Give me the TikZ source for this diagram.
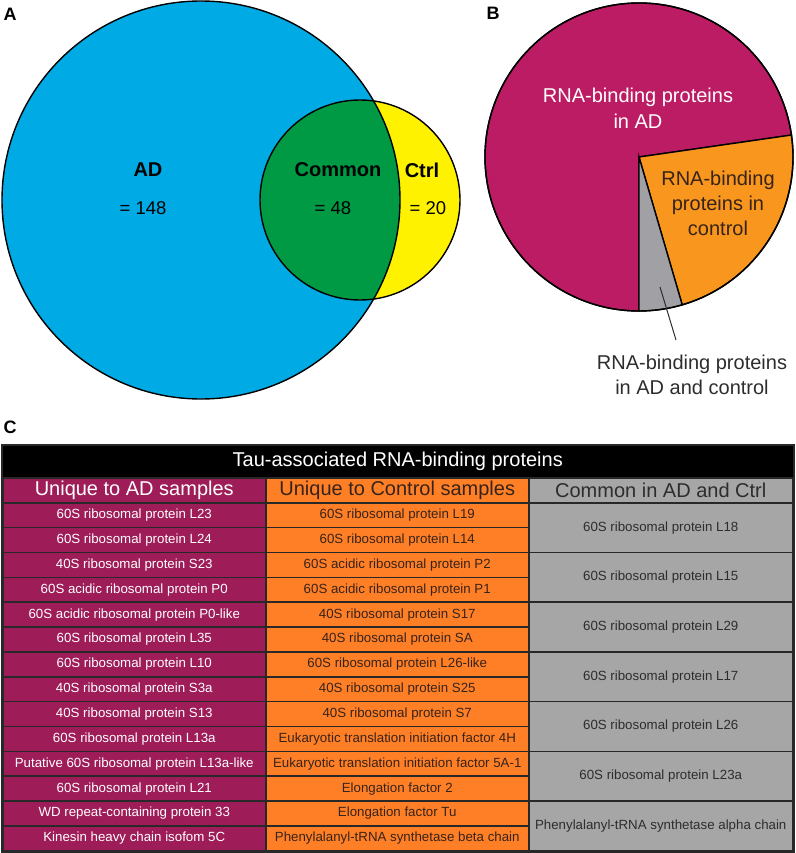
\documentclass[tikz,border=0pt]{standalone}
\usepackage{fontspec}
\setmainfont{Liberation Sans}
\definecolor{vblue}{RGB}{0,170,228}
\definecolor{vgreen}{RGB}{0,153,68}
\definecolor{vyellow}{RGB}{255,242,0}
\definecolor{pmag}{RGB}{188,28,100}
\definecolor{porange}{RGB}{248,150,30}
\definecolor{pgray}{RGB}{160,160,165}
\definecolor{tmag}{RGB}{158,28,88}
\definecolor{torange}{RGB}{255,127,39}
\definecolor{tgray}{RGB}{166,166,166}
\definecolor{tline}{RGB}{40,40,40}
\definecolor{ctext}{RGB}{55,35,25}
\definecolor{gtext}{RGB}{45,45,45}
\newcommand\cellfnt{\fontsize{13.3}{15}\selectfont}
\newcommand\headfnt{\fontsize{20}{22}\selectfont}
\begin{document}
\begin{tikzpicture}[x=1pt,y=-1pt,
  panel/.style={font=\fontsize{18}{20}\selectfont\bfseries},
  vlab/.style={font=\fontsize{20}{22}\selectfont\bfseries, text={RGB,255:red,20;green,20;blue,20}},
  vnum/.style={font=\fontsize{18.5}{20}\selectfont, text={RGB,255:red,20;green,20;blue,20}},
  ptext/.style={font=\fontsize{20}{26}\selectfont, align=center},
  tcell/.style={draw=tline, line width=1.5pt, inner sep=0pt, anchor=north west, font=\cellfnt, minimum height=24.857pt},
  adcell/.style={tcell, fill=tmag, text=white, minimum width=263pt},
  ctcell/.style={tcell, fill=torange, text=ctext, minimum width=263pt},
  cmcell/.style={tcell, fill=tgray, text=gtext, minimum width=264pt, minimum height=49.714pt},
  hdcell/.style={tcell, font=\headfnt, minimum height=25pt}
]
\useasboundingbox (0,0) rectangle (795,853);

% ---------- Panel A: Venn ----------
\node[panel] (pA) at (10,14) {A};
\fill[vblue] (201,200) circle[radius=199pt];
\fill[vyellow] (360,200) circle[radius=100pt];
\begin{scope}
  \clip (201,200) circle[radius=199pt];
  \fill[vgreen] (360,200) circle[radius=100pt];
\end{scope}
\draw[line width=1.4pt] (201,200) circle[radius=199pt];
\draw[line width=1.4pt] (360,200) circle[radius=100pt];
\node[vlab] (tAD) at (148,170) {AD};
\node[vnum] (nAD) at (143,208) {= 148};
\node[vlab] (tCm) at (338,170) {Common};
\node[vnum] (nCm) at (333,208) {= 48};
\node[vlab] (tCt) at (422,170) {Ctrl};
\node[vnum] (nCt) at (428,208) {= 20};

% ---------- Panel B: Pie ----------
\node[panel] (pB) at (493,13) {B};
\coordinate (pc) at (639,157);
\filldraw[fill=pmag, draw=black, line width=1.4pt] (pc) -- ++(8.2:154pt) arc[start angle=8.2, end angle=270, radius=154pt] -- cycle;
\filldraw[fill=porange, draw=black, line width=1.4pt] (pc) -- ++(8.2:154pt) arc[start angle=8.2, end angle=-73.7, radius=154pt] -- cycle;
\filldraw[fill=pgray, draw=black, line width=1.4pt] (pc) -- ++(-73.7:154pt) arc[start angle=-73.7, end angle=-90, radius=154pt] -- cycle;
\draw[line width=1.4pt] (pc) circle[radius=154pt];
\node[ptext, text=white] (pAD) at (638,108) {RNA-binding proteins\\in AD};
\node[ptext, text=ctext, font=\fontsize{20}{25}\selectfont] (pCt) at (718,203) {RNA-binding\\proteins in\\control};
\node[ptext, text=gtext, font=\fontsize{20}{25}\selectfont] (pBo) at (692,375) {RNA-binding proteins\\in AD and control};
\coordinate (ls) at (660,287);
\coordinate (le) at (676,340);
\draw[line width=1pt, gtext] (ls) -- (le);

% ---------- Panel C: Table ----------
\node[panel] (pC) at (10,427) {C};
\node[tcell, fill=black, text=white, font=\headfnt, minimum width=790pt, minimum height=32pt, draw=black] (th) at (2,445) {Tau-associated RNA-binding proteins};
\node[hdcell, adcell, font=\headfnt, minimum height=25pt] (h1) at (2,477) {Unique to AD samples};
\node[hdcell, ctcell, font=\headfnt, minimum height=25pt] (h2) at (265,477) {Unique to Control samples};
\node[hdcell, cmcell, font=\headfnt, minimum height=25pt] (h3) at (528,477) {Common in AD and Ctrl};

\foreach \t [count=\i from 0] in {60S ribosomal protein L23, 60S ribosomal protein L24, 40S ribosomal protein S23, 60S acidic ribosomal protein P0, 60S acidic ribosomal protein P0-like, 60S ribosomal protein L35, 60S ribosomal protein L10, 40S ribosomal protein S3a, 40S ribosomal protein S13, 60S ribosomal protein L13a, Putative 60S ribosomal protein L13a-like, 60S ribosomal protein L21, WD repeat-containing protein 33, Kinesin heavy chain isofom 5C}
  \node[adcell] (a\i) at (2,502+\i*24.857) {\t};

\foreach \t [count=\i from 0] in {60S ribosomal protein L19, 60S ribosomal protein L14, 60S acidic ribosomal protein P2, 60S acidic ribosomal protein P1, 40S ribosomal protein S17, 40S ribosomal protein SA, 60S ribosomal protein L26-like, 40S ribosomal protein S25, 40S ribosomal protein S7, Eukaryotic translation initiation factor 4H, Eukaryotic translation initiation factor 5A-1, Elongation factor 2, Elongation factor Tu, Phenylalanyl-tRNA synthetase beta chain}
  \node[ctcell] (b\i) at (265,502+\i*24.857) {\t};

\foreach \t [count=\i from 0] in {60S ribosomal protein L18, 60S ribosomal protein L15, 60S ribosomal protein L29, 60S ribosomal protein L17, 60S ribosomal protein L26, 60S ribosomal protein L23a, Phenylalanyl-tRNA synthetase alpha chain}
  \node[cmcell] (c\i) at (528,502+\i*49.714) {\t};

\draw[tline, line width=2pt] (th.north west) rectangle (c6.south east);
\end{tikzpicture}
\end{document}
